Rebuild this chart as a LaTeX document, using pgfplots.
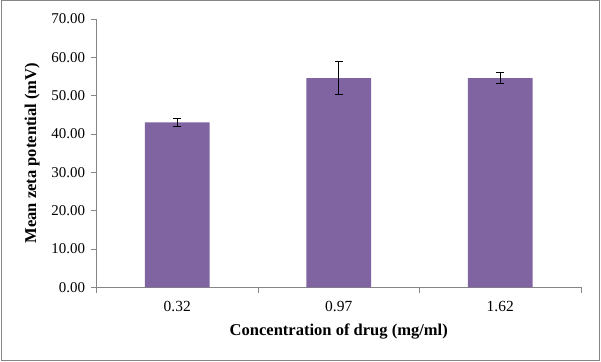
\documentclass[border=0pt]{standalone}
\usepackage{pgfplots}
\pgfplotsset{compat=1.18}
\usepackage{fontspec}
\setmainfont{Liberation Serif}
\definecolor{barpurple}{HTML}{8064A2}
\definecolor{axisgray}{HTML}{868686}
\begin{document}
\begin{tikzpicture}[x=1bp,y=1bp]
\useasboundingbox (0,0) rectangle (601,361);
\fill[white] (0,0) rectangle (601,361);
\draw[axisgray, line width=1bp] (1,1) rectangle (599,360);
\begin{axis}[
  at={(96.5bp,73.7bp)}, anchor=south west,
  scale only axis, width=484.5bp, height=268.3bp,
  xmin=-0.5, xmax=2.5, ymin=0, ymax=70,
  axis x line*=bottom, axis y line*=left,
  axis line style={axisgray, line width=0.8bp},
  every tick/.style={axisgray, line width=0.8bp},
  tick align=outside,
  major tick length=5.5bp,
  ytick={0,10,...,70},
  yticklabel style={/pgf/number format/fixed, /pgf/number format/fixed zerofill, /pgf/number format/precision=2, font=\fontsize{15}{17}\selectfont, xshift=-2.5bp},
  /pgf/number format/assume math mode=true,
  xtick={-0.5,0.5,1.5,2.5}, xticklabels={},
  extra x ticks={0,1,2},
  extra x tick labels={0.32,0.97,1.62},
  extra x tick style={major tick length=0pt, tick label style={font=\fontsize{15.5}{17}\selectfont, yshift=-10bp}},
  xlabel={\textbf{Concentration of drug (mg/ml)}},
  ylabel={\textbf{Mean zeta potential (mV)}},
  every axis x label/.style={at={(axis description cs:0.5,-0.163)}, anchor=center, font=\fontsize{16.6}{18}\selectfont},
  every axis y label/.style={at={(axis description cs:-0.133,0.5)}, anchor=center, rotate=90, font=\fontsize{16.6}{18}\selectfont},
  clip=false,
]
\addplot[ybar, bar width=0.4, fill=barpurple, draw=none,
  error bars/.cd, y dir=both, y explicit,
  error bar style={black, line width=1bp},
  error mark options={rotate=90, mark size=4bp, black, line width=1bp}]
  coordinates {
    (0,43.05) +- (0,1.05)
    (1,54.6) +- (0,4.2)
    (2,54.6) +- (0,1.55)
  };
\end{axis}
\end{tikzpicture}
\end{document}
